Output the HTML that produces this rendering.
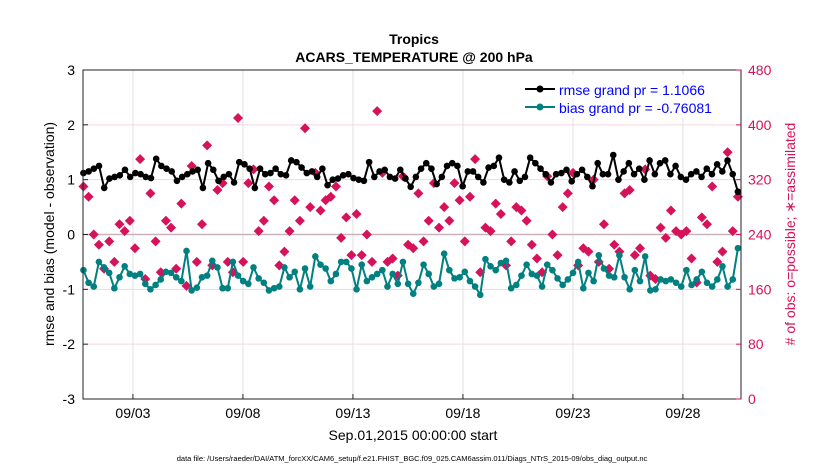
<!DOCTYPE html>
<html><head><meta charset="utf-8"><style>
body{margin:0;background:#fff;}
svg{font-family:"Liberation Sans",sans-serif;}
</style></head><body>
<svg id="chart" width="830" height="470" xmlns="http://www.w3.org/2000/svg">
<text x="414" y="44" text-anchor="middle" font-size="14" font-weight="bold">Tropics</text>
<text x="414" y="62" text-anchor="middle" font-size="14" font-weight="bold">ACARS_TEMPERATURE @ 200 hPa</text>
<g id="grid"></g><g id="marks"></g><g id="axes"></g>
<text transform="translate(54,234) rotate(-90)" text-anchor="middle" font-size="14">rmse and bias (model - observation)</text>
<text transform="translate(795,234) rotate(-90)" text-anchor="middle" font-size="14" fill="#d6125a"># of obs: o=possible; ∗=assimilated</text>
<text x="413" y="440" text-anchor="middle" font-size="14">Sep.01,2015 00:00:00 start</text>
<text x="412" y="461" text-anchor="middle" font-size="7.5">data file: /Users/raeder/DAI/ATM_forcXX/CAM6_setup/f.e21.FHIST_BGC.f09_025.CAM6assim.011/Diags_NTrS_2015-09/obs_diag_output.nc</text>
<g>
<rect x="520" y="75" width="218" height="42" fill="#fff"/>
<line x1="525" y1="89" x2="555" y2="89" stroke="#000" stroke-width="2"/><circle cx="540" cy="89" r="3.5" fill="#000"/>
<text x="559" y="95" font-size="14" fill="#0000ff">rmse grand pr = 1.1066</text>
<line x1="525" y1="107" x2="555" y2="107" stroke="#008080" stroke-width="2"/><circle cx="540" cy="107" r="3.5" fill="#008080"/>
<text x="559" y="113" font-size="14" fill="#0000ff">bias grand pr = -0.76081</text>
</g>
</svg>
<script>
const rmse=[1.12,1.15,1.2,1.25,0.85,1.02,1.05,1.08,1.18,1.05,1.12,1.1,1.05,1.03,1.38,1.25,1.2,1.15,0.98,1.05,1.1,1.15,1.18,0.85,1.3,1.18,0.98,1.05,1.1,0.95,1.32,1.28,1.2,0.85,1.2,1.1,1.12,1.2,1.1,1.08,1.35,1.32,1.22,1.12,1.15,1.05,1.2,0.9,1.0,1.02,1.08,1.1,1.03,1.0,0.98,1.32,1.05,1.15,1.18,1.05,1.02,1.18,1.02,0.87,1.05,1.2,1.3,1.2,0.92,1.05,1.25,1.3,1.25,0.88,1.15,1.15,1.05,0.95,1.22,1.25,1.4,1.0,0.95,1.15,0.98,1.05,1.4,1.3,1.2,1.1,0.95,1.1,1.12,1.18,0.97,1.1,1.18,1.05,0.88,1.3,1.1,1.1,1.45,1.0,1.15,1.3,1.1,1.2,1.0,1.35,1.1,1.3,1.35,1.1,1.25,1.05,1.0,1.1,1.15,1.05,1.2,1.1,1.28,1.15,1.35,1.1,0.78];
const bias=[-0.65,-0.88,-0.95,-0.5,-0.6,-0.7,-0.98,-0.78,-0.58,-0.72,-0.75,-0.72,-0.9,-1.0,-0.92,-0.82,-0.68,-0.7,-0.78,-0.85,-0.3,-1.02,-0.97,-0.78,-0.75,-0.48,-0.6,-0.98,-0.98,-0.5,-0.75,-0.85,-0.9,-0.6,-0.8,-0.88,-1.02,-0.98,-0.95,-0.6,-0.78,-0.68,-1.0,-0.62,-0.95,-0.4,-0.55,-0.62,-0.85,-0.72,-0.5,-0.5,-0.62,-1.0,-0.55,-0.85,-0.78,-0.72,-0.65,-0.95,-0.72,-0.9,-0.5,-0.9,-1.08,-0.88,-0.55,-0.72,-0.95,-0.9,-0.35,-0.65,-0.8,-0.78,-0.68,-0.85,-0.95,-1.1,-0.45,-0.58,-0.65,-0.52,-0.48,-0.98,-0.92,-0.75,-0.55,-0.72,-0.75,-0.95,-0.55,-0.65,-0.8,-0.92,-0.82,-0.7,-0.5,-0.98,-0.7,-0.85,-0.38,-0.62,-0.75,-0.78,-0.38,-0.78,-1.0,-0.65,-0.85,-0.4,-1.02,-1.0,-0.82,-0.85,-0.82,-0.88,-0.95,-0.65,-0.92,-0.82,-0.68,-0.88,-0.95,-0.82,-0.58,-0.95,-0.82,-0.25];
const obs=[310,295,240,225,190,230,200,255,245,260,220,350,175,300,230,185,260,250,190,285,165,340,200,255,370,195,305,315,200,185,410,200,315,335,245,260,310,290,195,215,245,290,260,395,280,330,275,290,295,310,235,265,210,270,210,240,200,420,330,200,205,180,325,225,220,300,230,260,315,250,280,260,315,290,230,295,350,185,250,245,285,270,195,230,280,275,260,225,205,185,325,240,210,280,300,330,195,220,215,320,200,255,190,225,215,300,305,210,220,335,180,175,250,235,275,245,240,245,205,170,265,255,310,200,215,360,245,295];
const xTickLabels=["09/03","09/08","09/13","09/18","09/23","09/28"];
const xTickDays=[2,7,12,17,22,27];
const yTicks=[-3,-2,-1,0,1,2,3];
const rTicks=[0,80,160,240,320,400,480];
const span=29.75,t0=-0.25;
const L=83,R=741,T=70,B=399;
const xS=d=>L+(d-(-0.27))/(29.64+0.27)*(R-L);
const yS=v=>T+(3-v)/6*(B-T);
const rS=v=>B-v/480*(B-T);
const NS="http://www.w3.org/2000/svg";
function mk(tag,at,parent){const e=document.createElementNS(NS,tag);for(const k in at)e.setAttribute(k,at[k]);document.getElementById(parent).appendChild(e);return e;}
mk('rect',{x:L,y:T,width:R-L,height:B-T,fill:'#fff'},'grid');
xTickDays.forEach(d=>{const e=mk('line',{x1:xS(d),x2:xS(d),y1:T,y2:B,stroke:'#e0e0e0'},'grid');

});
rTicks.forEach(v=>{const e=mk('line',{x1:L,x2:R,y1:rS(v),y2:rS(v),stroke:'#f6d5e0'},'grid');

});
mk('line',{x1:L,x2:R,y1:yS(0),y2:yS(0),stroke:'#c9b3b8','stroke-width':1.5},'grid');
function series(arr,color,name){
 const st=span/(arr.length-1);
 const pts=arr.map((v,i)=>[xS(t0+i*st),yS(v)]);
 const p=mk('polyline',{points:pts.map(q=>q.join(',')).join(' '),fill:'none',stroke:color,'stroke-width':2},'marks');
 
 
 pts.forEach(q=>{const c=mk('circle',{cx:q[0],cy:q[1],r:3.3,fill:color},'marks');
 
 });
}
const ost=span/(obs.length-1);
obs.forEach((v,i)=>{const x=xS(t0+i*ost),y=rS(v);
 const g=mk('path',{d:`M${x},${y-5}L${x+5},${y}L${x},${y+5}L${x-5},${y}Z`,fill:'#d6125a'},'marks');
 
 });
series(rmse,'#000','rmse');
series(bias,'#008080','bias');
mk('rect',{x:L,y:T,width:R-L,height:B-T,fill:'none',stroke:'#222'},'axes');
yTicks.forEach(v=>{mk('line',{x1:L,x2:L+5,y1:yS(v),y2:yS(v),stroke:'#222'},'axes');
 const t=mk('text',{x:L-8,y:yS(v)+5,'text-anchor':'end','font-size':14},'axes');t.textContent=v;
 
 });
rTicks.forEach(v=>{mk('line',{x1:R-5,x2:R,y1:rS(v),y2:rS(v),stroke:'#d6125a'},'axes');
 const t=mk('text',{x:R+7,y:rS(v)+5,'font-size':14,fill:'#d6125a'},'axes');t.textContent=v;
 
 });
xTickDays.forEach((d,i)=>{mk('line',{x1:xS(d),x2:xS(d),y1:B,y2:B-5,stroke:'#222'},'axes');
 const t=mk('text',{x:xS(d),y:B+19,'text-anchor':'middle','font-size':14},'axes');t.textContent=xTickLabels[i];
 
 });
</script>
</body></html>
